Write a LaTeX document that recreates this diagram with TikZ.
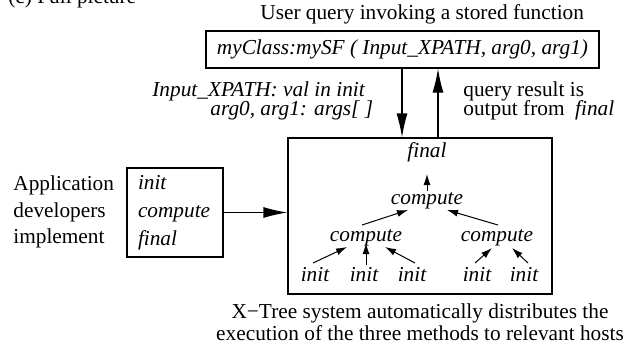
\documentclass[tikz,border=0pt]{standalone}
\usepackage{fontspec}
\setmainfont{Liberation Serif}
\usetikzlibrary{arrows.meta}
\begin{document}
\begin{tikzpicture}[x=0.5pt,y=-0.5pt,
  every node/.style={font=\fontsize{10.65}{12.8}\selectfont, inner sep=0pt},
  lbl/.style={anchor=base west},
  itl/.style={font=\fontsize{10.65}{12.8}\selectfont\itshape},
  mlabel/.style={anchor=base, font=\fontsize{10.65}{12.8}\selectfont\itshape},
  boxline/.style={draw, line width=0.6pt},
  bigarr/.style={line width=0.6pt, -{Latex[length=12pt,width=5.5pt]}},
  smallarr/.style={line width=0.5pt, -{Latex[length=5.5pt,width=3.5pt]}},
]
\useasboundingbox (0,0) rectangle (631,350);
\clip (0,0) rectangle (631,350);

% title (cut off at the top, as in the reference)
\node[lbl] (title) at (8,3) {(c) Full picture};

% top
\node[lbl] (uq) at (260,19) {User query invoking a stored function};
\node[boxline, itl, minimum width=196.5pt, minimum height=18.5pt] (q) at (402.5,49.5)
  {myClass:mySF ( Input\_XPATH, arg0, arg1)};

\node[lbl, itl] (in1) at (152,96) {Input\_XPATH: val in init};
\node[lbl, itl] (in2) at (210,115) {arg0, arg1: args[ ]};
\node[lbl] (o1) at (463,96) {query result is};
\node[lbl] (o2) at (463,115) {output from~ \textit{final}};

% system box
\node[boxline, minimum width=132pt, minimum height=78pt] (sys) at (420,216) {};

\draw[bigarr] ([xshift=-9pt]sys.north |- q.south) -- ([xshift=-9pt]sys.north);
\draw[bigarr] ([xshift=9pt]sys.north) -- ([xshift=9pt]sys.north |- q.south);

% tree
\node[mlabel] (fin) at (427,157) {final};
\node[mlabel] (ct) at (427,204) {compute};
\node[mlabel] (cl) at (366,241) {compute};
\node[mlabel] (cr) at (497,241) {compute};
\node[mlabel] (i1) at (315,281) {init};
\node[mlabel] (i2) at (364,281) {init};
\node[mlabel] (i3) at (412,281) {init};
\node[mlabel] (i4) at (477,281) {init};
\node[mlabel] (i5) at (524,281) {init};

\draw[smallarr] ([shift={(-2,-18)}]i1.base) -- ([shift={(-19,6)}]cl.base);
\draw[smallarr] ([shift={(2,-16)}]i2.base) -- ([shift={(0,2)}]cl.base);
\draw[smallarr] ([shift={(3,-18)}]i3.base) -- ([shift={(19,6)}]cl.base);
\draw[smallarr] ([shift={(-2,-18)}]i4.base) -- ([shift={(-5,7)}]cr.base);
\draw[smallarr] ([shift={(4,-18)}]i5.base) -- ([shift={(15,7)}]cr.base);
\draw[smallarr] ([shift={(-4,-16)}]cl.base) -- ([shift={(-19,6)}]ct.base);
\draw[smallarr] ([shift={(1,-16)}]cr.base) -- ([shift={(20,6)}]ct.base);
\draw[smallarr] ([shift={(0,-13)}]ct.base) -- ([shift={(0,17)}]fin.base);

% left
\node[align=left, anchor=west, font=\fontsize{10.65}{13.25}\selectfont] (app) at (13,212)
  {Application\\developers\\implement};
\node[boxline, align=left, text width=37pt, inner xsep=5.5pt, minimum height=44.5pt,
  font=\fontsize{10.65}{14}\selectfont\itshape] (impl) at (175,212.5)
  {init\\compute\\final};
\draw[bigarr] (impl.east) -- (impl.east -| sys.west);

% bottom
\node[anchor=base] (b1) at (420,318) {X−Tree system automatically distributes the};
\node[anchor=base] (b2) at (420,340) {execution of the three methods to relevant hosts};
\end{tikzpicture}
\end{document}
